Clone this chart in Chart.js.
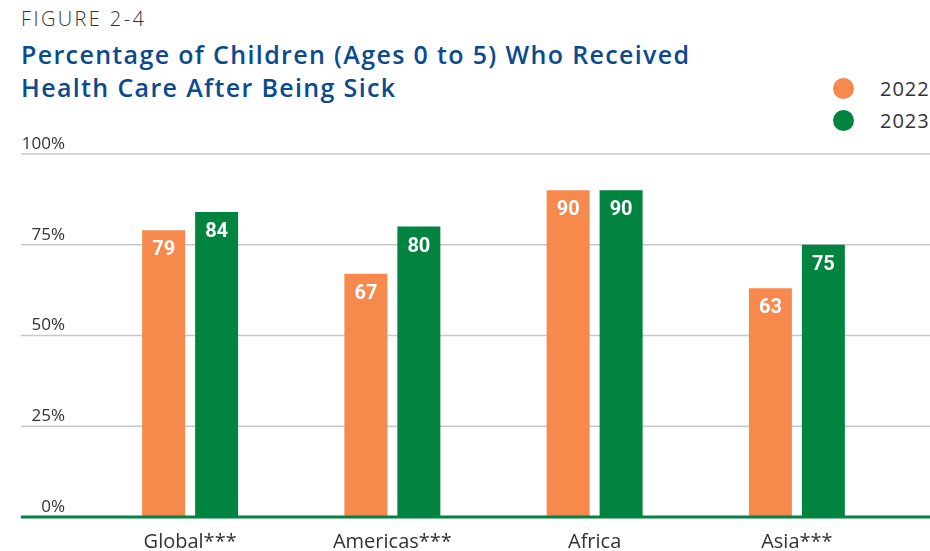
<!DOCTYPE html>
<html>
<head>
<meta charset="utf-8">
<script src="https://cdn.jsdelivr.net/npm/chart.js@4.4.1/dist/chart.umd.min.js"></script>
<style>
  html, body { margin: 0; padding: 0; background: #fff; }
  #wrap { position: relative; width: 930px; height: 551px; overflow: hidden; }
  #fig { position: absolute; left: 21px; top: 5px; font: 300 20px "Open Sans", sans-serif; color: #333; letter-spacing: 2.4px; }
  #title { position: absolute; left: 21px; top: 38px; font: 600 25px "Open Sans", sans-serif; color: #0b4a8f; line-height: 33px; letter-spacing: 1.35px; }
  #legend { position: absolute; left: 833px; top: 72px; font: 400 20px "Open Sans", sans-serif; color: #333; letter-spacing: 1px; }
  .item { display: flex; align-items: center; height: 32px; }
  .dot { width: 21px; height: 21px; border-radius: 50%; margin-right: 26px; }
  canvas { position: absolute; left: 0; top: 0; }
</style>
</head>
<body>
<div id="wrap">
  <div id="fig">FIGURE 2-4</div>
  <div id="title">Percentage of Children (Ages 0 to 5) Who Received<br>Health Care After Being Sick</div>
  <div id="legend"></div>
  <canvas id="chart" width="930" height="551"></canvas>
</div>
<script>
// Regions and yearly percentages
const regions = ['Global***', 'Americas***', 'Africa', 'Asia***'];
const years = ['2022', '2023'];
const values2022 = [79, 67, 90, 63];
const values2023 = [84, 80, 90, 75];
const yTicks = [0, 25, 50, 75, 100];

const orange = '#f6894b';
const green = '#00843f';

// Legend
const legend = document.getElementById('legend');
[orange, green].forEach((c, i) => {
    const row = document.createElement('div');
    row.className = 'item';
    row.innerHTML = `<span class="dot" style="background:${c}"></span><span>${years[i]}</span>`;
    legend.appendChild(row);
});

// Grid lines, % labels and region names, drawn across the full canvas width
const gridPlugin = {
    id: 'fullGrid',
    beforeDatasetsDraw(chart) {
        const ctx = chart.ctx;
        const y = chart.scales.y;
        const x = chart.scales.x;
        ctx.save();
        yTicks.forEach(t => {
            const py = y.getPixelForValue(t);
            if (t > 0) {
                ctx.strokeStyle = '#c8c8c8';
                ctx.lineWidth = 1.5;
                ctx.beginPath();
                ctx.moveTo(21, py);
                ctx.lineTo(930, py);
                ctx.stroke();
            }
            ctx.fillStyle = '#333';
            ctx.font = '400 17px "Open Sans", sans-serif';
            ctx.textAlign = 'right';
            ctx.textBaseline = 'middle';
            ctx.fillText(t + '%', 65, py - 10);
        });

        ctx.font = '400 20px "Open Sans", sans-serif';
        ctx.textAlign = 'center';
        regions.forEach((r, i) => {
            ctx.fillText(r, x.getPixelForValue(i), y.getPixelForValue(0) + 25);
        });
        ctx.restore();
    },
    afterDatasetsDraw(chart) {
        const ctx = chart.ctx;
        const py = chart.scales.y.getPixelForValue(0);
        ctx.save();
        ctx.strokeStyle = green;
        ctx.lineWidth = 3;
        ctx.beginPath();
        ctx.moveTo(21, py);
        ctx.lineTo(930, py);
        ctx.stroke();

        // value labels inside the bar tops
        ctx.fillStyle = '#fff';
        ctx.font = '700 20px Roboto, sans-serif';
        ctx.textAlign = 'center';
        ctx.textBaseline = 'middle';
        chart.data.datasets.forEach((ds, i) => {
            chart.getDatasetMeta(i).data.forEach((bar, j) => {
                ctx.fillText(ds.data[j], bar.x, bar.y + 20);
            });
        });
        ctx.restore();
    }
};

new Chart(document.getElementById('chart'), {
    type: 'bar',
    data: {
        labels: regions,
        datasets: [
            { label: years[0], data: values2022, backgroundColor: orange },
            { label: years[1], data: values2023, backgroundColor: green }
        ]
    },
    options: {
        responsive: false,
        animation: false,
        layout: { padding: { left: 89, right: 32, top: 154, bottom: 34 } },
        categoryPercentage: 0.524,
        barPercentage: 0.811,
        plugins: {
            legend: { display: false },
            tooltip: { enabled: false }
        },
        scales: {
            y: { display: false, min: 0, max: 100 },
            x: { display: false }
        }
    },
    plugins: [gridPlugin]
});
</script>
</body>
</html>
